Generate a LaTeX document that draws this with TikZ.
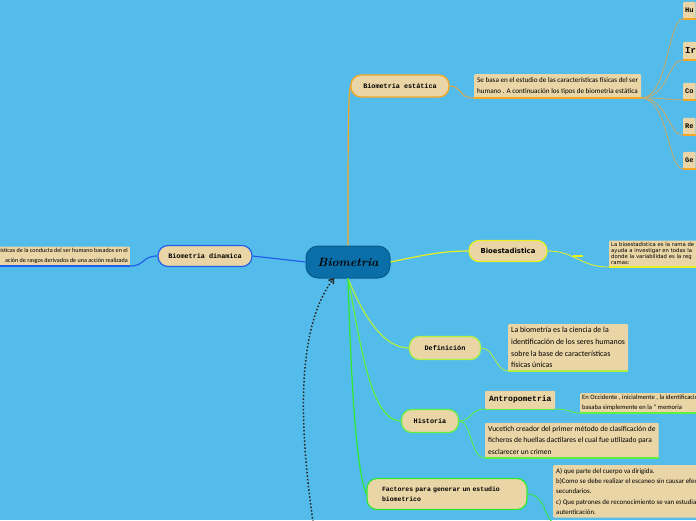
\documentclass[tikz,border=0pt]{standalone}
\usepackage{fontspec}
\newfontfamily\leaffont{Carlito}
\newfontfamily\monofont{Liberation Mono}
\newfontfamily\djvfont{DejaVu Sans}
\usetikzlibrary{arrows.meta}
\definecolor{bg}{RGB}{84,188,235}
\definecolor{cfill}{RGB}{10,110,168}
\definecolor{cdraw}{RGB}{8,90,140}
\definecolor{tan}{RGB}{234,213,166}
\definecolor{orng}{RGB}{245,166,35}
\definecolor{orngl}{RGB}{205,170,100}
\definecolor{blu}{RGB}{32,96,232}
\definecolor{yel}{RGB}{232,240,32}
\definecolor{lime}{RGB}{176,240,64}
\definecolor{grn}{RGB}{96,240,64}
\definecolor{grn2}{RGB}{48,232,48}
\tikzset{
  central/.style={draw=cdraw, fill=cfill, line width=1pt, rounded corners=12pt, minimum width=84pt, minimum height=32pt, font=\itshape\bfseries\fontsize{12}{12}\selectfont, text=black},
  mainnode/.style={fill=tan, line width=1.2pt, rounded corners=10pt, minimum height=22pt, font=\monofont\bfseries\fontsize{6.8}{9}\selectfont, inner xsep=6pt},
  leafbox/.style={fill=tan, rounded corners=1pt, inner sep=3pt, align=left, font=\leaffont\fontsize{6.8}{11.7}\selectfont},
  tinybox/.style={fill=tan, rounded corners=1pt, inner xsep=2pt, inner ysep=2pt, minimum height=17pt, font=\monofont\bfseries\fontsize{7}{8}\selectfont, anchor=south west},
  conn/.style={line width=1.2pt},
  thin/.style={line width=0.8pt}
}
\begin{document}
\begin{tikzpicture}[x=1pt,y=-1pt]
\useasboundingbox (0,0) rectangle (696,520);
\fill[bg] (0,0) rectangle (696,520);

% central
\node[central] (c) at (348,262) {Biometria};

% ---- Biometria estatica
\node[mainnode, draw=orng, minimum width=98pt] (est) at (400,86) {Biometria estática};
\draw[conn, orng] (c.north) .. controls (348,150) and (348,96) .. (est.west);
\node[leafbox, anchor=south west, font=\leaffont\fontsize{7.1}{11.5}\selectfont] (sb) at (474,98) {Se basa en el estudio de las características físicas del ser\\humano . A continuación los tipos de biometria estática};
\draw[conn, orngl] (est.east) .. controls (462,86) and (458,98) .. (sb.south west);
\draw[line width=1.5pt, orng] (sb.south west) -- (sb.south east);

\node[tinybox] (hu) at (683,19) {Hu};
\node[tinybox, minimum height=18pt, font=\monofont\bfseries\fontsize{9}{10}\selectfont] (ir) at (683,60) {Ir};
\node[tinybox] (co) at (683,100) {Co};
\node[tinybox] (re) at (683,135) {Re};
\node[tinybox] (ge) at (683,169) {Ge};
\foreach \n/\yy in {hu/19,ir/60,co/100,re/135,ge/169}{
  \draw[thin, orngl] (sb.south east) .. controls (668,98) and (668,\yy) .. (\n.south west);
  \draw[line width=1.5pt, orng] (\n.south west) -- (\n.south east);
}

% ---- Biometria dinamica
\node[mainnode, draw=blu, minimum width=94pt, minimum height=21pt] (din) at (205,256) {Biometria dinamica};
\draw[conn, blu] (c.west) -- (din.east);
\node[leafbox, anchor=south east, align=right, inner sep=2pt, font=\leaffont\fontsize{6.1}{10}\selectfont] (dl) at (130,266) {ísticas de la conducta del ser humano basados en el\\ación de rasgos derivados de una acción realizada};
\draw[conn, blu] (din.west) .. controls (142,256) and (145,266) .. (dl.south east);
\draw[line width=1.5pt, blu] (dl.south west) -- (dl.south east);

% ---- Bioestadistica
\node[mainnode, draw=yel, minimum width=78pt, minimum height=21pt, font=\djvfont\bfseries\fontsize{6.9}{8}\selectfont] (bio) at (508,251) {Bioestadistica};
\draw[conn, yel] (c.east) .. controls (420,256) and (440,251) .. (bio.west);
\node[leafbox, anchor=south west, inner sep=2pt, text width=100pt, font=\djvfont\fontsize{5.3}{6}\selectfont] (bl) at (609,267) {La bioestadistica es la rama de\\ayuda a investigar en todas la\\donde la variabilidad es la reg\\ramas:};
\draw[thin, yel] (bio.east) .. controls (575,251) and (580,267) .. (bl.south west);
\draw[line width=2pt, yel] (573,255.5) -- (583,255.5);
\draw[line width=1.5pt, yel] (bl.south west) -- (bl.south east);

% ---- Definicion
\node[mainnode, draw=lime, minimum width=71pt, minimum height=23pt] (def) at (445,348) {Definición};
\draw[conn, lime] (c.south) .. controls (365,320) and (385,348) .. (def.west);
\node[leafbox, anchor=south west, font=\leaffont\fontsize{7.9}{11.7}\selectfont] (dfl) at (508,371) {La biometría es la ciencia de la\\identificación de los seres humanos\\sobre la base de características\\físicas únicas};
\draw[thin, lime] (def.east) .. controls (495,348) and (495,371) .. (dfl.south west);
\draw[line width=1.5pt, lime] (dfl.south west) -- (dfl.south east);

% ---- Historia
\node[mainnode, draw=grn, minimum width=57pt, minimum height=23pt] (his) at (430,421) {Historia};
\draw[conn, grn] (c.south) .. controls (360,340) and (370,421) .. (his.west);
\node[tinybox, minimum width=70pt, minimum height=18pt, font=\monofont\bfseries\fontsize{8}{9}\selectfont] (ant) at (485,409) {Antropometria};
\draw[thin, grn] (his.east) .. controls (472,421) and (470,409) .. (ant.south west);
\draw[line width=1pt, grn] (ant.south west) -- (ant.south east);
\node[leafbox, anchor=south west, inner sep=2pt, font=\leaffont\fontsize{6.6}{10}\selectfont] (occ) at (580,413) {En Occidente , inicialmente , la identificación\\basaba simplemente en la " memoria};
\draw[thin, grn] (ant.south east) .. controls (570,409) and (570,413) .. (occ.south west);
\draw[line width=1.5pt, grn] (occ.south west) -- (occ.south east);
\node[leafbox, anchor=south west, font=\leaffont\fontsize{7.5}{11.8}\selectfont] (vu) at (485,458) {Vucetich creador del primer método de clasificación de\\ficheros de huellas dactilares el cual fue utilizado para\\esclarecer un crimen};
\draw[thin, grn] (his.east) .. controls (472,421) and (470,458) .. (vu.south west);
\draw[line width=1.5pt, grn] (vu.south west) -- (vu.south east);

% ---- Factores
\node[mainnode, draw=grn2, minimum width=160pt, minimum height=31pt, text width=130pt, align=left, font=\monofont\bfseries\fontsize{6.5}{10}\selectfont] (fac) at (447,494) {Factores para generar un estudio\\biometrico};
\draw[conn, grn2] (c.south) .. controls (351,380) and (356,470) .. (fac.west);
\node[leafbox, anchor=north west, inner sep=3pt, font=\leaffont\fontsize{6.9}{10.3}\selectfont] (fl) at (553,465) {A) que parte del cuerpo va dirigida.\\b)Como se debe realizar el escaneo sin causar efectos\\secundarios.\\c) Que patrones de reconocimiento se van estudiar para la\\autenticación.};
\coordinate (flend) at (553,522);
\draw[thin, grn2] (fac.east) .. controls (545,494) and (545,520) .. (flend);

% ---- dotted arrow
\coordinate (dstart) at (313,522);
\coordinate (dend) at (334,278);
\draw[line width=1.5pt, dotted, black!85, -{Straight Barb[length=4pt,width=6pt]}] (dstart) .. controls (300,430) and (295,330) .. (dend);

\end{tikzpicture}
\end{document}
